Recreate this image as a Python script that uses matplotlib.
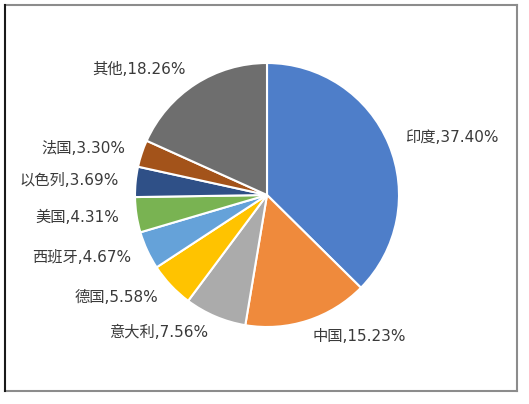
import matplotlib
matplotlib.use("Agg")
import matplotlib.pyplot as plt
from matplotlib.lines import Line2D

plt.rcParams['font.family'] = ['DejaVu Sans', 'Noto Sans CJK SC']

countries = ['印度', '中国', '意大利', '德国', '西班牙', '美国', '以色列', '法国', '其他']
shares = [37.40, 15.23, 7.56, 5.58, 4.67, 4.31, 3.69, 3.30, 18.26]
colors = ['#4E7EC9', '#EF8A3C', '#ABABAB', '#FFC300', '#65A2D9',
          '#79B352', '#2F5087', '#A3531A', '#6E6E6E']

W, H = 529, 404
fig = plt.figure(figsize=(W / 100, H / 100), dpi=100)

# pie centre at (267, 195) px from top-left, radius about 132 px
r = 132
span = 1.45
cx, cy = 267, H - 195
ax = fig.add_axes([(cx - span * r) / W, (cy - span * r) / H,
                   2 * span * r / W, 2 * span * r / H])

labels = ['%s,%.2f%%' % (c, s) for c, s in zip(countries, shares)]
wedges, texts = ax.pie(shares, labels=labels, colors=colors, startangle=90,
                       counterclock=False, radius=1, labeldistance=1.13,
                       wedgeprops=dict(edgecolor='white', linewidth=1.5),
                       textprops=dict(fontsize=11, color='#3A3A3A'))
for w in wedges:
    w.set_clip_on(False)
for t in texts:
    t.set_clip_on(False)
ax.set_xlim(-span, span)
ax.set_ylim(-span, span)
ax.set_aspect('equal')
ax.axis('off')

# outer frame
def px(x, y):
    return x / W, 1 - y / H

for (x0, y0), (x1, y1), col in [((5, 5), (517, 5), '#8C8C8C'),
                                ((517, 5), (517, 391), '#8C8C8C'),
                                ((5, 391), (517, 391), '#8C8C8C'),
                                ((5, 5), (5, 391), '#1A1A1A')]:
    a, b = px(x0, y0)
    c, d = px(x1, y1)
    fig.add_artist(Line2D([a, c], [b, d], transform=fig.transFigure,
                          color=col, linewidth=1.5))

fig.savefig('out.png', dpi=100)
